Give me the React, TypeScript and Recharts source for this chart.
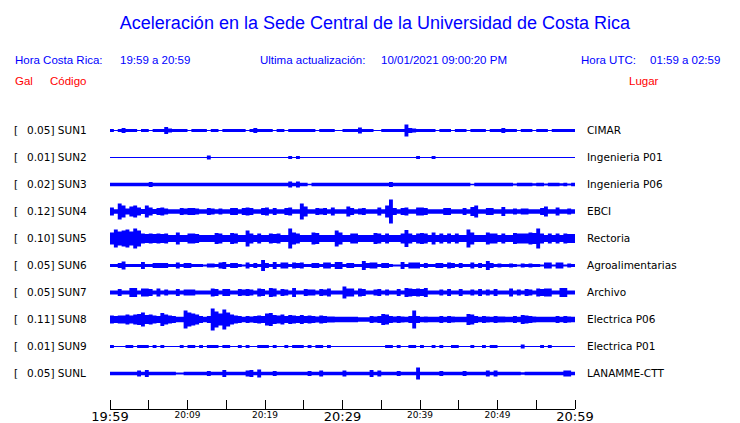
import { ComposedChart, Area, XAxis, YAxis } from "recharts";

// station metadata
const stationCodes = ["SUN1", "SUN2", "SUN3", "SUN4", "SUN5", "SUN6", "SUN7", "SUN8", "SUN9", "SUNL"];
const stationScales = ["0.05", "0.01", "0.02", "0.12", "0.10", "0.05", "0.05", "0.11", "0.01", "0.05"];
const stationPlaces = [
  "CIMAR", "Ingenieria P01", "Ingenieria P06", "EBCI", "Rectoria",
  "Agroalimentarias", "Archivo", "Electrica P06", "Electrica P01", "LANAMME-CTT",
];

// envelope (half amplitude) of each trace, one value per 30 s, 19:59 -> 20:59
const sun1 = [
  1.5, 0.5, 1.5, 2.5, 1.5, 1.5, 1.5, 0.5, 1.5, 1.5, 0.5, 1.5, 1.5, 1.5, 3.5, 2, 1.5, 1.5, 1.5, 1.5,
  0.5, 1.5, 1.5, 1.5, 1.5, 0.5, 1.5, 1.5, 0.5, 1.5, 1.5, 1.5, 1.5, 1.5, 1.5, 0.5, 1.5, 2.5, 1.5, 1.5,
  1.5, 1.5, 0.5, 1.5, 1.5, 0.5, 1.5, 1.5, 1.5, 1.5, 1.5, 1.5, 1.5, 0.5, 1.5, 1.5, 1.5, 1.5, 0.5, 0.5,
  1.5, 1.5, 1.5, 1.5, 3, 1.5, 1.5, 1.5, 0.5, 0.5, 1.5, 1.5, 1.5, 1.5, 1.5, 1.5, 6, 2.5, 2, 1.5,
  1.5, 1.5, 1.5, 1.5, 0.5, 1.5, 1.5, 1.5, 0.5, 1.5, 1.5, 1.5, 0.5, 1.5, 1.5, 1.5, 1.5, 0.5, 1.5, 1.5,
  1.5, 2.5, 1.5, 1.5, 1.5, 0.5, 1.5, 1.5, 1.5, 0.5, 1.5, 1.5, 1.5, 0.5, 1.5, 1.5, 1.5, 1.5, 1.5, 1.5,
];
const sun2 = [
  0.5, 0.5, 0.5, 0.5, 0.5, 0.5, 0.5, 0.5, 0.5, 0.5, 0.5, 0.5, 0.5, 0.5, 0.5, 0.5, 0.5, 0.5, 0.5, 0.5,
  0.5, 0.5, 0.5, 0.5, 0.5, 2, 0.5, 0.5, 0.5, 0.5, 0.5, 0.5, 0.5, 0.5, 0.5, 0.5, 0.5, 0.5, 0.5, 0.5,
  0.5, 0.5, 0.5, 0.5, 0.5, 0.5, 1.5, 0.5, 1.5, 0.5, 0.5, 0.5, 0.5, 0.5, 0.5, 0.5, 0.5, 0.5, 0.5, 0.5,
  0.5, 0.5, 0.5, 0.5, 0.5, 0.5, 0.5, 0.5, 0.5, 0.5, 0.5, 0.5, 0.5, 0.5, 0.5, 0.5, 0.5, 0.5, 0.5, 1.5,
  0.5, 0.5, 0.5, 1.5, 0.5, 0.5, 0.5, 0.5, 0.5, 0.5, 0.5, 0.5, 0.5, 0.5, 0.5, 0.5, 0.5, 0.5, 0.5, 0.5,
  0.5, 0.5, 0.5, 0.5, 0.5, 0.5, 0.5, 0.5, 0.5, 0.5, 0.5, 0.5, 0.5, 0.5, 0.5, 0.5, 0.5, 0.5, 0.5, 0.5,
];
const sun3 = [
  1.7, 1.7, 1.7, 1.7, 1.7, 1.7, 1.7, 1.7, 1.7, 1.7, 2.5, 1.7, 1.7, 1.7, 1.7, 1.7, 1.7, 1.7, 1.7, 1.7,
  1.7, 1.7, 1.7, 1.7, 1.7, 1.7, 1.7, 1.7, 1.7, 1.7, 1.7, 1.7, 1.7, 1.7, 1.7, 1.7, 1.7, 1.7, 1.7, 1.7,
  1.7, 1.7, 1.7, 1.7, 1.7, 1.7, 3, 1.7, 3, 1.7, 1.7, 0.8, 1.7, 1.7, 1.7, 1.7, 1.7, 1.7, 1.7, 1.7,
  1.7, 1.7, 1.7, 1.7, 1.7, 1.7, 1.7, 1.7, 1.7, 1.7, 1.7, 1.7, 2.5, 1.7, 1.7, 1.7, 1.7, 1.7, 1.7, 1.7,
  1.7, 1.7, 1.7, 1.7, 1.7, 1.7, 1.7, 1.7, 1.7, 1.7, 1.7, 1.7, 1.7, 0.8, 1.7, 1.7, 1.7, 1.7, 1.7, 1.7,
  1.7, 1.7, 1.7, 1.7, 1, 1.7, 1.7, 1.7, 1.7, 1.2, 1.7, 1.7, 1, 1.7, 1.7, 1.7, 1.2, 1.7, 1, 1.7,
];
const sun4 = [
  4, 2.2, 8, 6, 3, 5, 6, 4, 2.5, 6, 4, 2.5, 3.5, 4, 3, 2.2, 2.2, 2.2, 3.5, 3,
  3.5, 3.5, 3, 2.2, 2.2, 3.5, 3, 2.2, 3, 2.2, 2.2, 3.5, 3.5, 2.2, 3.5, 4, 3.5, 2.2, 2.2, 3.5,
  4, 2.2, 3.5, 2.2, 2.2, 3.5, 4, 2.2, 2.2, 8, 5, 2.2, 2.2, 3.5, 3, 3.5, 2.2, 4, 2.2, 2.2,
  2.2, 5, 3.5, 2.2, 3, 3.5, 2.2, 2.2, 2.2, 4, 2.2, 6, 12, 3.5, 2.2, 3.5, 4, 2.2, 2.2, 4,
  4, 3.5, 2.2, 2.2, 2.2, 2.2, 3.5, 3.5, 2.2, 2.2, 2.2, 3.5, 2.2, 4.5, 6, 2.2, 2.2, 3.5, 3.5, 2.2,
  2.2, 4.5, 2.2, 2.2, 3, 2.2, 3, 3, 2.2, 2.2, 2.2, 3.5, 5, 2.2, 2.2, 4, 2.2, 2.2, 3, 2.2,
];
const sun5 = [
  6, 9, 7, 8, 9, 7, 10, 8, 5, 4.5, 5, 4.5, 5, 4.5, 5, 3.6, 3.6, 6, 3.6, 3.6,
  5, 5, 4.5, 3.6, 3.6, 3.6, 3.6, 5.5, 5, 3.6, 3.6, 5.5, 5, 3.6, 3.6, 8, 5, 3.6, 5, 3.6,
  3.6, 5, 4.5, 5, 3.6, 3.6, 10, 6, 5, 3.6, 3.6, 3.6, 6, 5.5, 3.6, 3.6, 3.6, 3.6, 8, 6,
  3.6, 3.6, 5, 5, 3.6, 3.6, 3.6, 3.6, 5.5, 5, 3.6, 5, 3.6, 3.6, 3.6, 5, 8.5, 5, 3.6, 5,
  5.5, 5, 3.6, 6, 3.6, 5, 3.6, 5, 3.6, 5, 3.6, 3.6, 9, 6, 3.6, 3.6, 3.6, 6, 5, 5,
  3.6, 5, 3.6, 3.6, 5.5, 5, 5, 5, 6, 5.5, 10, 5, 3.6, 5, 3.6, 5, 3.6, 5, 4.5, 4.5,
];
const sun6 = [
  1.6, 1.6, 2.5, 4, 1.6, 1.6, 1.6, 1.6, 3.5, 1.6, 1.6, 2.5, 2.5, 2.5, 2.5, 1.6, 1.6, 3, 1.6, 2.5,
  2.5, 1.6, 1.6, 1.6, 1, 2, 2, 1.6, 3, 3.5, 1.6, 2.5, 2.5, 1.6, 1, 3, 1.6, 2.5, 1.6, 5.5,
  2.5, 1.6, 3.5, 1.6, 3, 3, 1.6, 3, 2.5, 3, 1.6, 1.6, 2.5, 2.5, 1.6, 3, 3, 1.6, 3.5, 3.5,
  1.6, 2.5, 2.5, 1.6, 1.6, 4.5, 2.5, 3, 3, 1.6, 2.5, 2.5, 1.6, 1, 1, 3.5, 1.6, 3, 3, 3,
  1.6, 2.5, 1.6, 1.6, 2.5, 2.5, 1.6, 3, 2.5, 1.6, 2.5, 1.6, 1.6, 3, 1.6, 2.5, 1.6, 4.5, 2.5, 1.6,
  2, 1.6, 1.6, 2, 1.6, 1, 2, 1.6, 2, 1.6, 1.6, 1, 3, 3, 1, 3, 3, 1, 2, 1.6,
];
const sun7 = [
  2, 2, 3.5, 2, 2, 4.5, 4.5, 2, 4, 4, 3.5, 2, 4, 2, 3, 2, 2, 3.5, 2, 3,
  3, 3, 2, 2, 2, 2, 4, 3.5, 2, 3.5, 3.5, 2, 2, 3.5, 3, 3.5, 3, 2, 4, 3.5,
  2, 4.5, 4, 2, 3.5, 3, 2, 4.5, 2, 2, 3.5, 3, 3, 2, 3.5, 3, 4, 2, 2, 2,
  6, 4, 4, 2, 4, 3.5, 2, 2, 3, 3.5, 2, 3, 2, 2, 3.5, 2, 4.5, 4, 3.5, 4,
  3.5, 4.5, 2, 2, 2, 3, 2, 3.5, 2, 2, 3.5, 2, 2, 3, 2, 3.5, 2, 3, 2, 3.5,
  2, 2, 2, 4, 2, 3, 2, 3.5, 3, 2, 4, 3.5, 4, 4, 2, 2, 4.5, 4.5, 2, 2,
];
const sun8 = [
  4, 3.5, 4, 4, 5, 4, 5, 5.5, 7, 4.5, 5, 4, 3.5, 6.5, 5, 4, 3.5, 2.8, 2.8, 9,
  7, 6, 5, 3.5, 2.8, 3.5, 11, 8, 6, 10, 7, 5, 4, 3.5, 2.8, 3.5, 3, 3.5, 4, 3.5,
  6, 6.5, 4.5, 4, 5, 3.5, 4.5, 4, 3.5, 4.5, 3.5, 4, 3.5, 3, 4, 3.5, 3, 3, 2.8, 2.8,
  2.8, 2.8, 2.8, 2.8, 2.3, 2.3, 2.3, 3.5, 3, 3.5, 5.5, 5, 3.5, 3, 3.5, 3, 2.8, 3.5, 9, 3.5,
  2.8, 3, 2.8, 2.8, 2.8, 3.5, 2.8, 3.5, 3, 2.8, 2.8, 2.8, 5.5, 5, 3.5, 2.8, 3.5, 3, 2.8, 3.5,
  3, 3, 2.8, 2.8, 3.5, 2.8, 4.5, 4, 3.5, 3, 2.8, 2.8, 2.8, 2.8, 2.8, 3.5, 2.8, 3.5, 3, 2.8,
];
const sun9 = [
  1.5, 0.5, 0.5, 0.5, 1.5, 1.5, 0.5, 1.5, 1.5, 1.5, 0.5, 1.5, 0.5, 1.5, 0.5, 0.5, 0.5, 0.5, 1.5, 0.5,
  1.5, 1.5, 0.5, 1.5, 0.5, 1.5, 1.5, 1.5, 0.5, 1.5, 1.5, 0.5, 0.5, 1.5, 0.5, 1.5, 0.5, 0.5, 1.5, 1.5,
  1.5, 0.5, 1.5, 0.5, 0.5, 1.5, 0.5, 1.5, 1.5, 1.5, 0.5, 1.5, 0.5, 1.5, 1.5, 0.5, 1.5, 0.5, 0.5, 0.5,
  0.5, 0.5, 0.5, 0.5, 0.5, 0.5, 0.5, 0.5, 0.5, 0.5, 0.5, 1.5, 1.5, 0.5, 1.5, 0.5, 0.5, 1.5, 1.5, 0.5,
  1.5, 0.5, 0.5, 1.5, 0.5, 1.5, 0.5, 0.5, 1.5, 1.5, 0.5, 0.5, 0.5, 1.5, 0.5, 0.5, 1.5, 0.5, 1.5, 1.5,
  0.5, 0.5, 0.5, 0.5, 0.5, 0.5, 2, 0.5, 0.5, 0.5, 0.5, 1.5, 0.5, 1.5, 0.5, 0.5, 0.5, 0.5, 0.5, 0.5,
];
const sunL = [
  1.8, 1.8, 1.8, 1.8, 1.8, 1.8, 1.8, 3, 1.8, 3.5, 1.8, 1.8, 1.8, 1.8, 1.8, 1.8, 1.8, 1, 1, 1.8,
  1.8, 1.8, 1.8, 1.8, 1.8, 2.5, 1.8, 1.8, 1.8, 3.5, 1.8, 1.8, 1.8, 1.8, 1.8, 3, 3.5, 1.8, 4, 1.8,
  1.8, 1.8, 2.5, 1.8, 1.8, 1.8, 1.8, 1.8, 1.8, 1.8, 1.8, 2.5, 1.8, 1.8, 3, 1.8, 1.8, 1.8, 1.8, 1.8,
  3, 1.8, 1.8, 1.8, 1.8, 1.8, 1.8, 3.5, 1.8, 3, 1.8, 1.8, 1.8, 1.8, 2.5, 1.8, 1.8, 1.8, 1.8, 6,
  1.8, 1.8, 1.8, 1.8, 1.8, 2.5, 1.8, 1.8, 1.8, 1.8, 1.8, 2.5, 1.8, 1.8, 1.8, 1.8, 1.8, 3, 1.8, 3,
  1.8, 1.8, 1.8, 1.8, 1.8, 1.8, 1.2, 1.8, 1.8, 1.8, 1.8, 1.8, 1.8, 1.8, 1.8, 1.8, 1.8, 3, 3, 1.8,
];
const traces = [sun1, sun2, sun3, sun4, sun5, sun6, sun7, sun8, sun9, sunL];

// x axis: minutes after 19:59
const timeTicks = [0, 5, 10, 15, 20, 25, 30, 35, 40, 45, 50, 55, 60];
const tickLabels: Record<number, string> = {
  0: "19:59", 10: "20:09", 20: "20:19", 30: "20:29", 40: "20:39", 50: "20:49", 60: "20:59",
};
const bigTicks = [0, 30, 60];

const ROW = 27; // track units per station row
const Y_MAX = 292;
const STEP = 0.5;

const rows = Array.from({ length: 121 }, (_, i) => {
  const r: Record<string, any> = { t: i * STEP };
  traces.forEach((arr, k) => {
    const c = Y_MAX - ROW / 2 - k * ROW;
    const a = arr[Math.min(i, arr.length - 1)];
    r["s" + k] = [c - a, c + a];
  });
  return r;
});

const BLUE = "#0000ff";
const SANS = "'Liberation Sans', Arial, sans-serif";
const DEJAVU = "'DejaVu Sans', sans-serif";

function TimeTick(props: any) {
  const { x, y, payload } = props;
  const v = payload.value;
  const px = Math.floor(x) + 0.5;
  const big = bigTicks.includes(v);
  return (
    <g>
      <line x1={px} x2={px} y1={y - 9} y2={y} stroke="#000" strokeWidth={1} />
      {tickLabels[v] && (
        <text x={x} y={y + (big ? 12 : 9)} textAnchor="middle" fontSize={big ? 13 : 9} fontFamily={DEJAVU} fill="#000">
          {tickLabels[v]}
        </text>
      )}
    </g>
  );
}

export default function App() {
  return (
    <div style={{ position: "absolute", left: 0, top: 0, width: 740, height: 423, background: "#fff", overflow: "hidden" }}>
      <svg width={740} height={423} style={{ position: "absolute", left: 0, top: 0 }}>
        <text x={375} y={29} textAnchor="middle" fontSize={18} fontFamily={SANS} fill={BLUE}>
          Aceleración en la Sede Central de la Universidad de Costa Rica
        </text>
        <g fontSize={11.5} fontFamily={SANS} fill={BLUE}>
          <text x={15} y={64}>Hora Costa Rica:</text>
          <text x={120} y={64}>19:59 a 20:59</text>
          <text x={260} y={64}>Ultima actualización:</text>
          <text x={381} y={64}>10/01/2021 09:00:20 PM</text>
          <text x={581} y={64}>Hora UTC:</text>
          <text x={650} y={64}>01:59 a 02:59</text>
        </g>
        <g fontSize={11.5} fontFamily={SANS} fill="#ff0000">
          <text x={15} y={85}>Gal</text>
          <text x={50} y={85}>Código</text>
          <text x={629} y={85}>Lugar</text>
        </g>
        <g fontSize={10.5} fontFamily={DEJAVU} fill="#000">
          {stationCodes.map((code, k) => (
            <g key={code}>
              <text x={14} y={134.3 + k * ROW}>[</text>
              <text x={27} y={134.3 + k * ROW}>{stationScales[k] + "] " + code}</text>
              <text x={587} y={134.3 + k * ROW}>{stationPlaces[k]}</text>
            </g>
          ))}
        </g>
      </svg>
      <div style={{ position: "absolute", left: 80, top: 117 }}>
        <ComposedChart width={525} height={306} data={rows} margin={{ top: 0, right: 30, bottom: 0, left: 30 }}>
          <XAxis
            dataKey="t"
            type="number"
            domain={[0, 60]}
            ticks={timeTicks}
            interval={0}
            height={14}
            tickSize={0}
            tickMargin={0}
            tickLine={false}
            axisLine={{ stroke: "#000", shapeRendering: "crispEdges" }}
            tick={<TimeTick />}
          />
          <YAxis hide type="number" domain={[0, Y_MAX]} />
          {traces.map((_, k) => (
            <Area
              key={k}
              dataKey={"s" + k}
              type="stepAfter"
              stroke="none"
              fill={BLUE}
              fillOpacity={1}
              dot={false}
              activeDot={false}
              isAnimationActive={false}
            />
          ))}
        </ComposedChart>
      </div>
    </div>
  );
}
